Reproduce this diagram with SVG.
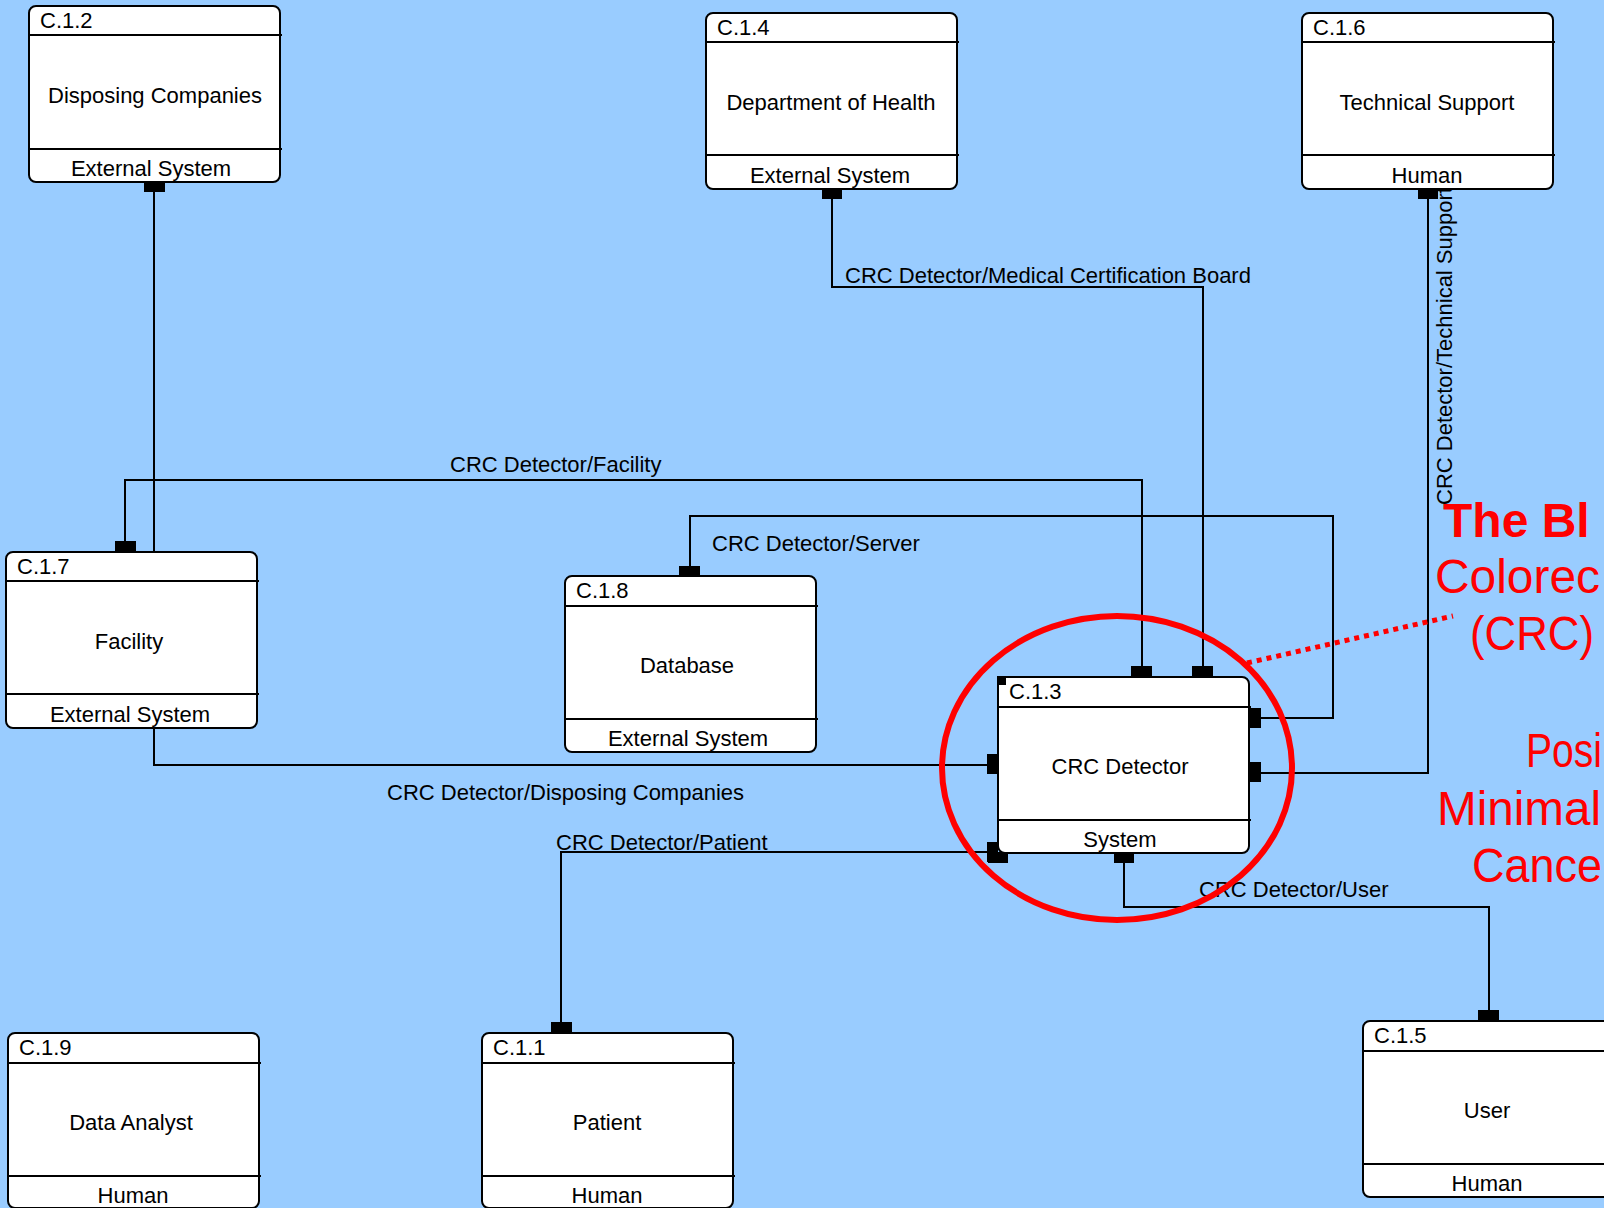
<svg xmlns="http://www.w3.org/2000/svg" width="1604" height="1208" viewBox="0 0 1604 1208">
<defs>
<style>
.box{fill:#fff;stroke:#000;stroke-width:2}
.div{stroke:#000;stroke-width:2}
.t{font-family:"Liberation Sans",Arial,sans-serif;font-size:22px;fill:#000}
.m{text-anchor:middle}
.ln{fill:none;stroke:#000;stroke-width:2}
.pad{fill:#000}
.red{font-family:"Liberation Sans",Arial,sans-serif;font-size:48px;fill:#f00}
</style>
</defs>
<rect width="1604" height="1208" fill="#99CCFF"/>

<g id="connectors">
  <!-- Disposing Companies -->
  <polyline class="ln" points="154,192 154,765 988,765"/>
  <text class="t" x="387" y="800">CRC Detector/Disposing Companies</text>
  <!-- Department of Health -->
  <polyline class="ln" points="832,199 832,287 1203,287 1203,667"/>
  <text class="t" x="845" y="283">CRC Detector/Medical Certification Board</text>
  <!-- Facility -->
  <polyline class="ln" points="125,541 125,480 1142,480 1142,667"/>
  <text class="t" x="450" y="472">CRC Detector/Facility</text>
  <!-- Server -->
  <polyline class="ln" points="690,566 690,516 1333,516 1333,718 1260,718"/>
  <text class="t" x="712" y="551">CRC Detector/Server</text>
  <!-- Technical Support -->
  <polyline class="ln" points="1428,199 1428,773 1260,773"/>
  <text class="t" transform="translate(1452,505) rotate(-90)">CRC Detector/Technical Support</text>
  <!-- Patient -->
  <polyline class="ln" points="988,852 561,852 561,1022"/>
  <text class="t" x="556" y="850">CRC Detector/Patient</text>
  <!-- User -->
  <polyline class="ln" points="1124,863 1124,907 1489,907 1489,1011"/>
  <text class="t" x="1199" y="897">CRC Detector/User</text>
  <!-- pads -->
  <rect class="pad" x="144" y="182" width="21" height="10"/>
  <rect class="pad" x="822" y="189" width="20" height="10"/>
  <rect class="pad" x="1418" y="189" width="20" height="10"/>
  <rect class="pad" x="115" y="541" width="21" height="11"/>
  <rect class="pad" x="679" y="566" width="21" height="10"/>
  <rect class="pad" x="1131" y="666" width="21" height="11"/>
  <rect class="pad" x="1192" y="666" width="21" height="11"/>
  <rect class="pad" x="1249" y="708" width="12" height="20"/>
  <rect class="pad" x="1249" y="762" width="12" height="20"/>
  <rect class="pad" x="987" y="754" width="11" height="20"/>
  <rect class="pad" x="987" y="842" width="11" height="20"/>
  <rect class="pad" x="988" y="852" width="20" height="11"/>
  <rect class="pad" x="1114" y="853" width="20" height="10"/>
  <rect class="pad" x="551" y="1022" width="21" height="11"/>
  <rect class="pad" x="1478" y="1010" width="21" height="11"/>
</g>

<g id="c12" transform="translate(29,6)">
  <rect class="box" width="251" height="176" rx="7"/>
  <line class="div" x1="0" y1="29" x2="253" y2="29"/>
  <line class="div" x1="0" y1="143" x2="253" y2="143"/>
  <text class="t" x="11" y="22">C.1.2</text>
  <text class="t m" x="126" y="97">Disposing Companies</text>
  <text class="t m" x="122" y="170">External System</text>
</g>
<g id="c14" transform="translate(706,13)">
  <rect class="box" width="251" height="176" rx="7"/>
  <line class="div" x1="0" y1="29" x2="253" y2="29"/>
  <line class="div" x1="0" y1="142" x2="253" y2="142"/>
  <text class="t" x="11" y="22">C.1.4</text>
  <text class="t m" x="125" y="97">Department of Health</text>
  <text class="t m" x="124" y="170">External System</text>
</g>
<g id="c16" transform="translate(1302,13)">
  <rect class="box" width="251" height="176" rx="7"/>
  <line class="div" x1="0" y1="29" x2="253" y2="29"/>
  <line class="div" x1="0" y1="142" x2="253" y2="142"/>
  <text class="t" x="11" y="22">C.1.6</text>
  <text class="t m" x="125" y="97">Technical Support</text>
  <text class="t m" x="125" y="170">Human</text>
</g>
<g id="c17" transform="translate(6,552)">
  <rect class="box" width="251" height="176" rx="7"/>
  <line class="div" x1="0" y1="29" x2="253" y2="29"/>
  <line class="div" x1="0" y1="142" x2="253" y2="142"/>
  <text class="t" x="11" y="22">C.1.7</text>
  <text class="t m" x="123" y="97">Facility</text>
  <text class="t m" x="124" y="170">External System</text>
</g>
<g id="c18" transform="translate(565,576)">
  <rect class="box" width="251" height="176" rx="7"/>
  <line class="div" x1="0" y1="30" x2="253" y2="30"/>
  <line class="div" x1="0" y1="143" x2="253" y2="143"/>
  <text class="t" x="11" y="22">C.1.8</text>
  <text class="t m" x="122" y="97">Database</text>
  <text class="t m" x="123" y="170">External System</text>
</g>
<g id="c13" transform="translate(998,677)">
  <rect class="box" width="251" height="176" rx="7"/>
  <line class="div" x1="0" y1="30" x2="253" y2="30"/>
  <line class="div" x1="0" y1="143" x2="253" y2="143"/>
  <rect class="pad" x="-1" y="-1" width="9" height="9"/>
  <text class="t" x="11" y="22">C.1.3</text>
  <text class="t m" x="122" y="97">CRC Detector</text>
  <text class="t m" x="122" y="170">System</text>
</g>
<g id="c19" transform="translate(8,1033)">
  <rect class="box" width="251" height="175" rx="7"/>
  <line class="div" x1="0" y1="30" x2="253" y2="30"/>
  <line class="div" x1="0" y1="143" x2="253" y2="143"/>
  <text class="t" x="11" y="22">C.1.9</text>
  <text class="t m" x="123" y="97">Data Analyst</text>
  <text class="t m" x="125" y="170">Human</text>
</g>
<g id="c11" transform="translate(482,1033)">
  <rect class="box" width="251" height="175" rx="7"/>
  <line class="div" x1="0" y1="30" x2="253" y2="30"/>
  <line class="div" x1="0" y1="143" x2="253" y2="143"/>
  <text class="t" x="11" y="22">C.1.1</text>
  <text class="t m" x="125" y="97">Patient</text>
  <text class="t m" x="125" y="170">Human</text>
</g>
<g id="c15" transform="translate(1363,1021)">
  <rect class="box" width="251" height="176" rx="7"/>
  <line class="div" x1="0" y1="30" x2="253" y2="30"/>
  <line class="div" x1="0" y1="143" x2="253" y2="143"/>
  <text class="t" x="11" y="22">C.1.5</text>
  <text class="t m" x="124" y="97">User</text>
  <text class="t m" x="124" y="170">Human</text>
</g>

<g id="callout">
  <ellipse cx="1117" cy="768" rx="175" ry="152" fill="none" stroke="#f00" stroke-width="6"/>
  <line x1="1247" y1="663" x2="1453" y2="616" stroke="#f00" stroke-width="5" stroke-dasharray="5,5"/>
  <text class="red" x="1443" y="537" font-weight="bold" font-size="50">The Bl</text>
  <text class="red" x="1435" y="593" textLength="165" lengthAdjust="spacingAndGlyphs">Colorec</text>
  <text class="red" x="1470" y="650" textLength="124" lengthAdjust="spacingAndGlyphs">(CRC)</text>
  <text class="red" x="1526" y="767" textLength="76" lengthAdjust="spacingAndGlyphs">Posi</text>
  <text class="red" x="1437" y="825" textLength="164" lengthAdjust="spacingAndGlyphs">Minimal</text>
  <text class="red" x="1472" y="882" textLength="130" lengthAdjust="spacingAndGlyphs">Cance</text>
</g>
</svg>
